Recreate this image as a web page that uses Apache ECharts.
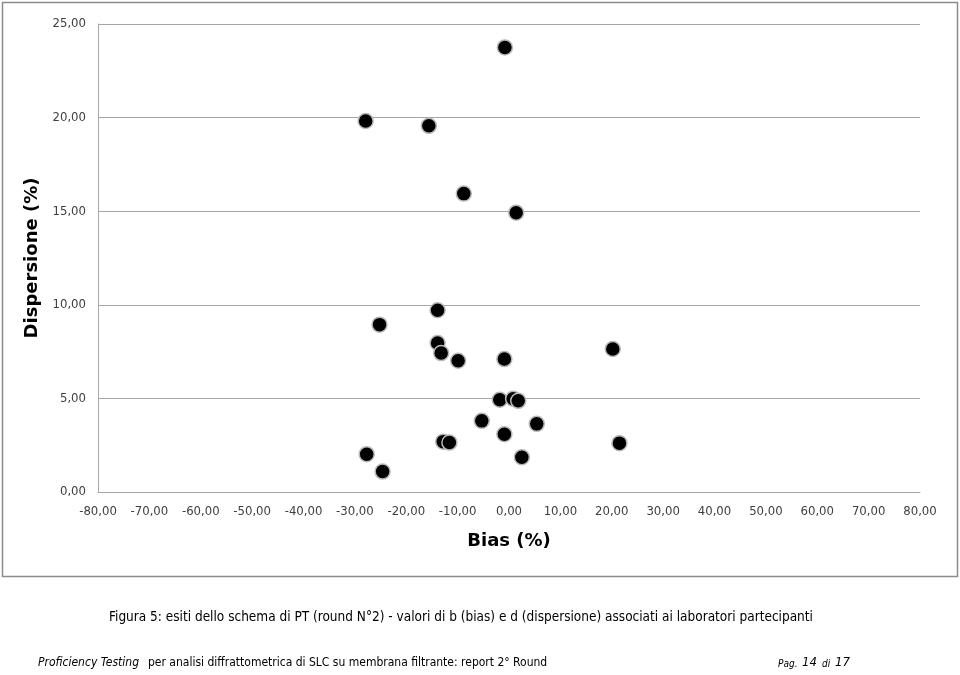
<!DOCTYPE html>
<html><head><meta charset="utf-8">
<script src="https://cdn.jsdelivr.net/npm/echarts@6/dist/echarts.min.js"></script>
<style>html,body{margin:0;padding:0;background:#fff}#c{width:960px;height:675px}</style>
</head><body><div id="c"></div>
<script>
const bias = [-0.8, -27.9, -15.6, -8.8, 1.4, -13.9, -25.2, -13.9, -13.2, -9.9, -0.9, -1.8, 0.8, 1.8, -5.3, 5.4, -0.9, -12.8, -11.6, 2.5, -27.7, -24.6, 20.2, 21.5];
const dispersione = [23.75, 19.82, 19.56, 15.94, 14.92, 9.71, 8.94, 7.96, 7.42, 7.01, 7.10, 4.93, 4.98, 4.87, 3.80, 3.64, 3.09, 2.69, 2.64, 1.86, 2.02, 1.09, 7.64, 2.61];
const xTitle = 'Bias (%)';
const yTitle = 'Dispersione (%)';
const caption = 'Figura 5: esiti dello schema di PT (round N°2) - valori di b (bias) e d (dispersione) associati ai laboratori partecipanti';

const fmt = v => { const s = Math.abs(v).toFixed(2).replace('.', ','); return (v < 0 ? '-' : '') + s; };
const pts = bias.map((b, i) => [b, dispersione[i]]);
const tickFont = '"DejaVu Sans Condensed", "Liberation Sans Narrow", sans-serif';
const chart = echarts.init(document.getElementById('c'), null, {renderer: 'canvas'});
chart.setOption({
  animation: false,
  grid: {left: 98, right: 40, top: 24, bottom: 183},
  xAxis: {
    type: 'value', min: -80, max: 80, interval: 10,
    axisLine: {show: true, onZero: false, lineStyle: {color: '#a6a6a6', width: 1}},
    axisTick: {show: false},
    splitLine: {show: false},
    axisLabel: {formatter: fmt, color: '#404040', fontSize: 13, fontFamily: tickFont, margin: 13},
    name: xTitle, nameLocation: 'middle', nameGap: 40,
    nameTextStyle: {fontSize: 18, fontWeight: 'bold', color: '#000', fontFamily: 'Verdana, "DejaVu Sans", sans-serif'}
  },
  yAxis: {
    type: 'value', min: 0, max: 25, interval: 5,
    axisLine: {show: true, onZero: false, lineStyle: {color: '#a6a6a6', width: 1}},
    axisTick: {show: false},
    splitLine: {show: true, lineStyle: {color: '#a6a6a6', width: 1}},
    axisLabel: {formatter: fmt, color: '#404040', fontSize: 13, fontFamily: tickFont, margin: 12, showMinLabel: true},
    name: yTitle, nameLocation: 'middle', nameGap: 50, nameRotate: 90,
    nameTextStyle: {fontSize: 18, fontWeight: 'bold', color: '#000', fontFamily: 'Verdana, "DejaVu Sans", sans-serif'}
  },
  series: [{
    type: 'scatter', data: pts, symbol: 'circle', symbolSize: 15,
    itemStyle: {color: '#000', borderColor: '#b8b8b8', borderWidth: 1.5, opacity: 1}
  }],
  graphic: [
    {type: 'rect', shape: {x: 2.5, y: 2.5, width: 955, height: 574}, style: {fill: 'none', stroke: '#8c8c8c', lineWidth: 1.5}, silent: true, z: -1},
    {type: 'text', left: 109, top: 610, style: {text: caption, font: '13.5px "DejaVu Sans Condensed", "Liberation Sans Narrow", sans-serif', fill: '#000'}},
    {type: 'text', left: 38, top: 657, style: {text: 'Proficiency Testing', font: 'italic 12px "DejaVu Sans Condensed", "Liberation Sans Narrow", sans-serif', fill: '#000'}},
    {type: 'text', left: 148, top: 657, style: {text: 'per analisi diffrattometrica di SLC su membrana filtrante: report 2° Round', font: '12px "DejaVu Sans Condensed", "Liberation Sans Narrow", sans-serif', fill: '#000'}},
    {type: 'text', left: 778, top: 659, style: {text: 'Pag.', font: 'italic 10px "DejaVu Sans Condensed", sans-serif', fill: '#000'}},
    {type: 'text', left: 802, top: 656, style: {text: '14', font: 'italic 13px "DejaVu Sans Condensed", sans-serif', fill: '#000'}},
    {type: 'text', left: 822, top: 659, style: {text: 'di', font: 'italic 10px "DejaVu Sans Condensed", sans-serif', fill: '#000'}},
    {type: 'text', left: 835, top: 656, style: {text: '17', font: 'italic 13px "DejaVu Sans Condensed", sans-serif', fill: '#000'}}
  ]
});
</script></body></html>
